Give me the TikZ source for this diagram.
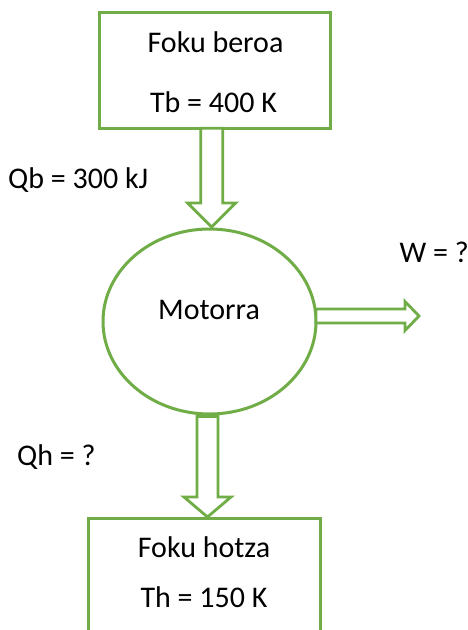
\documentclass[tikz,border=0pt]{standalone}
\usepackage{fontspec}
\setmainfont{Carlito}
\usetikzlibrary{shapes.geometric,calc}
\definecolor{ogreen}{RGB}{112,173,71}
\tikzset{
  gline/.style={draw=ogreen,line width=3pt},
  boxnode/.style={gline,rectangle,inner sep=0pt},
  blockarrow/.style={draw=ogreen,line width=2.8pt,fill=white,line join=miter},
  txt/.style={font=\fontsize{30}{36}\selectfont,inner sep=0pt,anchor=base},
  txtw/.style={txt,anchor=base west}
}
\begin{document}
\begin{tikzpicture}[x=1pt,y=-1pt]
\useasboundingbox (0,0) rectangle (468,630);
\clip (0,0) rectangle (468,630);
\fill[white] (0,0) rectangle (468,630);

% boxes and ellipse
\node[boxnode,minimum width=231.7pt,minimum height=115.6pt] (hot) at (215,70.5) {};
\node[gline,ellipse,minimum width=213pt,minimum height=185pt,inner sep=0pt] (motor) at (209.5,321.5) {};
\node[boxnode,minimum width=232.7pt,minimum height=142pt] (cold) at (204.35,589) {};

% arrow anchor points
\coordinate (a1s) at (211.7,128.3);
\coordinate (a1e) at (211.7,227);
\coordinate (a2s) at (316,316);
\coordinate (a2e) at (419,316);
\coordinate (a3s) at (207.5,416.5);
\coordinate (a3e) at (207.5,517);

% top arrow (Qb)
\draw[blockarrow] ($(a1s)+(-11,0)$) -- ($(a1e)+(-11,-24)$) -- ($(a1e)+(-24,-24)$) -- (a1e)
  -- ($(a1e)+(24,-24)$) -- ($(a1e)+(11,-24)$) -- ($(a1s)+(11,0)$) -- cycle;
% right arrow (W)
\draw[blockarrow] ($(a2s)+(0,-7)$) -- ($(a2e)+(-14,-7)$) -- ($(a2e)+(-14,-14.5)$) -- (a2e)
  -- ($(a2e)+(-14,14.5)$) -- ($(a2e)+(-14,7)$) -- ($(a2s)+(0,7)$) -- cycle;
% bottom arrow (Qh)
\draw[blockarrow] ($(a3s)+(-10.5,0)$) -- ($(a3e)+(-10.5,-20)$) -- ($(a3e)+(-23.5,-20)$) -- (a3e)
  -- ($(a3e)+(23.5,-20)$) -- ($(a3e)+(10.5,-20)$) -- ($(a3s)+(10.5,0)$) -- cycle;

% texts
\node[txt] (t1) at (215.5,52) {Foku beroa};
\node[txt] (t2) at (213.5,112) {Tb = 400 K};
\node[txt] (t3) at (209,319) {Motorra};
\node[txt] (t4) at (204,557) {Foku hotza};
\node[txt] (t5) at (204,607) {Th = 150 K};
\node[txtw] (l1) at (8,188) {Qb = 300 kJ};
\node[txtw] (l2) at (399.5,262) {W = ?};
\node[txtw] (l3) at (17,465) {Qh = ?};
\end{tikzpicture}
\end{document}
